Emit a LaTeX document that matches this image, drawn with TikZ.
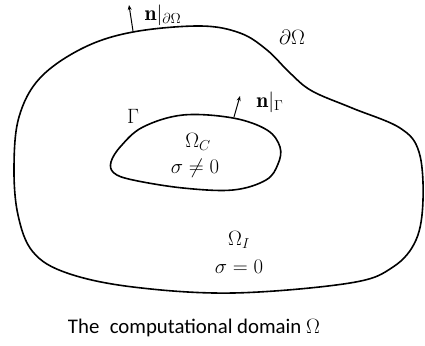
\documentclass[tikz,border=0pt]{standalone}
\usepackage{fontspec}
\newfontfamily\capfont{Carlito}
\usetikzlibrary{arrows.meta}
\begin{document}
\begin{tikzpicture}[x=1pt,y=-1pt,
  curve/.style={line width=1.6pt, black},
  normalarrow/.style={line width=1pt, -{Stealth[length=5pt,width=4pt]}},
  lbl/.style={font=\fontsize{21.5}{25}\selectfont, inner sep=1pt},
  captionstyle/.style={font=\capfont\fontsize{20.8}{24}\selectfont, inner sep=1pt}]
\useasboundingbox (0,0) rectangle (425,345);
% outer boundary
\draw[curve] plot[smooth cycle, tension=0.6] coordinates {
 (133,32) (200,26) (240,33) (267,50) (290,73) (312,91) (352,108)
 (400,128) (419,152) (423,200) (416,240) (393,267) (350,283)
 (233,293) (133,287) (67,273) (33,252) (18,215) (14,167) (19,117)
 (40,78) (83,48)};
% inner boundary
\draw[curve] plot[smooth cycle, tension=0.6] coordinates {
 (183,115) (233,118) (267,130) (280,147) (278,164) (266,180)
 (233,190) (183,188) (133,180) (114,173) (111,162) (121,146) (143,127)};
% normals
\coordinate (nb) at (133,31);
\coordinate (nt) at (129,5);
\draw[normalarrow] (nb) -- (nt);
\coordinate (gb) at (234,117);
\coordinate (gt) at (240,96);
\draw[normalarrow] (gb) -- (gt);
% labels
\node[lbl] (nOut) at (163,15) {$\mathbf{n}|_{\partial\Omega}$};
\node[lbl] (dO) at (292,37) {$\partial\Omega$};
\node[lbl] (nG) at (270,102) {$\mathbf{n}|_{\Gamma}$};
\node[lbl] (G) at (133,116) {$\Gamma$};
\node[lbl] (OC) at (198,142) {$\Omega_C$};
\node[lbl] (sC) at (195,168) {$\sigma\neq0$};
\node[lbl] (OI) at (239,240) {$\Omega_I$};
\node[lbl] (sI) at (239,267) {$\sigma=0$};
\node[captionstyle] (capt) at (194,328) {The\hspace{0.5em}computational domain $\Omega$};
\end{tikzpicture}
\end{document}
